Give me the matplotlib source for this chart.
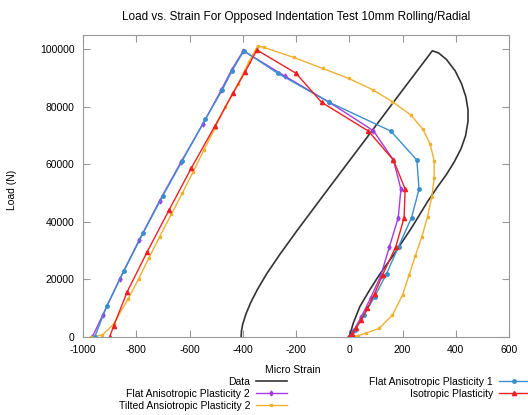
import matplotlib
matplotlib.use("Agg")
import matplotlib.pyplot as plt

plt.rcParams['font.family'] = ['Liberation Sans', 'DejaVu Sans']
plt.rcParams['axes.unicode_minus'] = False

# measured load/strain loop
data_x = [0, 15, 40, 77, 113, 175, 237, 295, 330, 365, 395, 420, 437, 446, 446, 438, 422, 398,
          365, 335, 312,
          200, 100, 0, -100, -200, -260, -310, -345, -370, -388, -400, -405, -406]
data_y = [0, 4800, 10600, 16400, 21600, 29700, 38400, 47200, 52000, 56500, 61000, 65500, 70000,
          75000, 79000, 83500, 88000, 92500, 96500, 98800, 99500,
          85800, 73500, 61200, 48900, 36500, 28800, 22000, 16500, 12000, 8000, 4500, 2000, 0]

# Flat Anisotropic Plasticity 1
fap1_x = [-956, -910, -846, -775, -700, -627, -540, -477, -440, -396, -269, -75, 156, 254, 262,
          234, 185, 140, 95, 55, 20, 0]
fap1_y = [0, 10900, 23000, 36000, 49100, 61300, 75800, 85900, 92600, 99500, 91700, 81600, 71600,
          61500, 51400, 41500, 31400, 22000, 14000, 7500, 2500, 0]

# Flat Anisotropic Plasticity 2
fap2_x = [-965, -926, -862, -789, -712, -631, -550, -480, -441, -398, -240, -75, 91, 166, 194,
          184, 151, 118, 80, 45, 15, 0]
fap2_y = [0, 7600, 20200, 33700, 47400, 61000, 74000, 86000, 93000, 99500, 90600, 81600, 71700,
          61500, 51400, 41500, 31400, 21200, 13500, 7000, 2000, 0]

# Tilted Ansiotropic Plasticity 2
tap2_x = [-969, -927, -885, -831, -791, -752, -712, -668, -627, -586, -546, -505, -465, -419,
          -378, -344, -321, -209, -100, -2, 90, 162, 231, 277, 304, 319, 319, 310, 294, 273, 248,
          225, 200, 162, 112, 62, 31, 0]
tap2_y = [0, 700, 4500, 13200, 20200, 27600, 34900, 42700, 50000, 57500, 65000, 72500, 80100,
          87800, 95500, 101200, 100700, 97200, 93400, 89900, 85900, 81800, 77200, 72200, 67000,
          61200, 55200, 48800, 41800, 34900, 28200, 21600, 14600, 7600, 3000, 1300, 400, 0]

# Isotropic Plasticity
iso_x = [-900, -885, -834, -759, -677, -594, -505, -437, -391, -347, -200, -104, 72, 166, 210,
         206, 175, 125, 95, 68, 45, 25, 10, 0]
iso_y = [0, 3800, 15700, 29600, 44100, 58600, 73300, 84700, 92200, 99800, 91700, 81600, 71600,
         61500, 51400, 41500, 31400, 21600, 15000, 10000, 6000, 3000, 1000, 0]

fig = plt.figure(figsize=(5.28, 4.15), dpi=100)
ax = fig.add_axes([83 / 528, 1 - 337 / 415, 426 / 528, 302 / 415])

l_data, = ax.plot(data_x, data_y, color='#333333', lw=1.2, label='Data')
l_fap2, = ax.plot(fap2_x, fap2_y, color='#a23ce8', lw=1.0, marker='d', ms=2.5,
                  label='Flat Anisotropic Plasticity 2')
l_tap2, = ax.plot(tap2_x, tap2_y, color='#f0b030', lw=1.0, marker='s', ms=2,
                  label='Tilted Ansiotropic Plasticity 2')
l_fap1, = ax.plot(fap1_x, fap1_y, color='#3a8fcc', lw=1.0, marker='o', ms=2.5,
                  label='Flat Anisotropic Plasticity 1')
l_iso, = ax.plot(iso_x, iso_y, color='#ee2020', lw=1.0, marker='^', ms=3,
                 label='Isotropic Plasticity')

ax.set_xlim(-1000, 600)
ax.set_ylim(0, 105000)
ax.set_xticks(range(-1000, 601, 200))
ax.set_yticks(range(0, 100001, 20000))
ax.tick_params(direction='in', length=5, width=0.8, color='#999999', labelsize=7.5,
               top=True, right=True, pad=6)
for s in ax.spines.values():
    s.set_color('#999999')
    s.set_linewidth(0.8)

fig.text(296 / 528, 1 - 17 / 415, 'Load vs. Strain For Opposed Indentation Test 10mm Rolling/Radial',
         ha='center', va='center', fontsize=8.5)
fig.text(12 / 528, 1 - 190 / 415, 'Load (N)', rotation=90, ha='center', va='center', fontsize=7.5)
fig.text(293 / 528, 1 - 370 / 415, 'Micro Strain', ha='center', va='center', fontsize=7.5)

leg_kw = dict(frameon=False, markerfirst=False, fontsize=7.5, handlelength=3.0,
              handletextpad=0.55, labelspacing=0.18, borderpad=0, borderaxespad=0)
leg1 = fig.legend(handles=[l_data, l_fap2, l_tap2], loc='upper right',
                  bbox_to_anchor=(287 / 528, 1 - 377 / 415), **leg_kw)
leg2 = fig.legend(handles=[l_fap1, l_iso], loc='upper right',
                  bbox_to_anchor=(530 / 528, 1 - 377 / 415), **leg_kw)

fig.savefig('out.png', dpi=100)
